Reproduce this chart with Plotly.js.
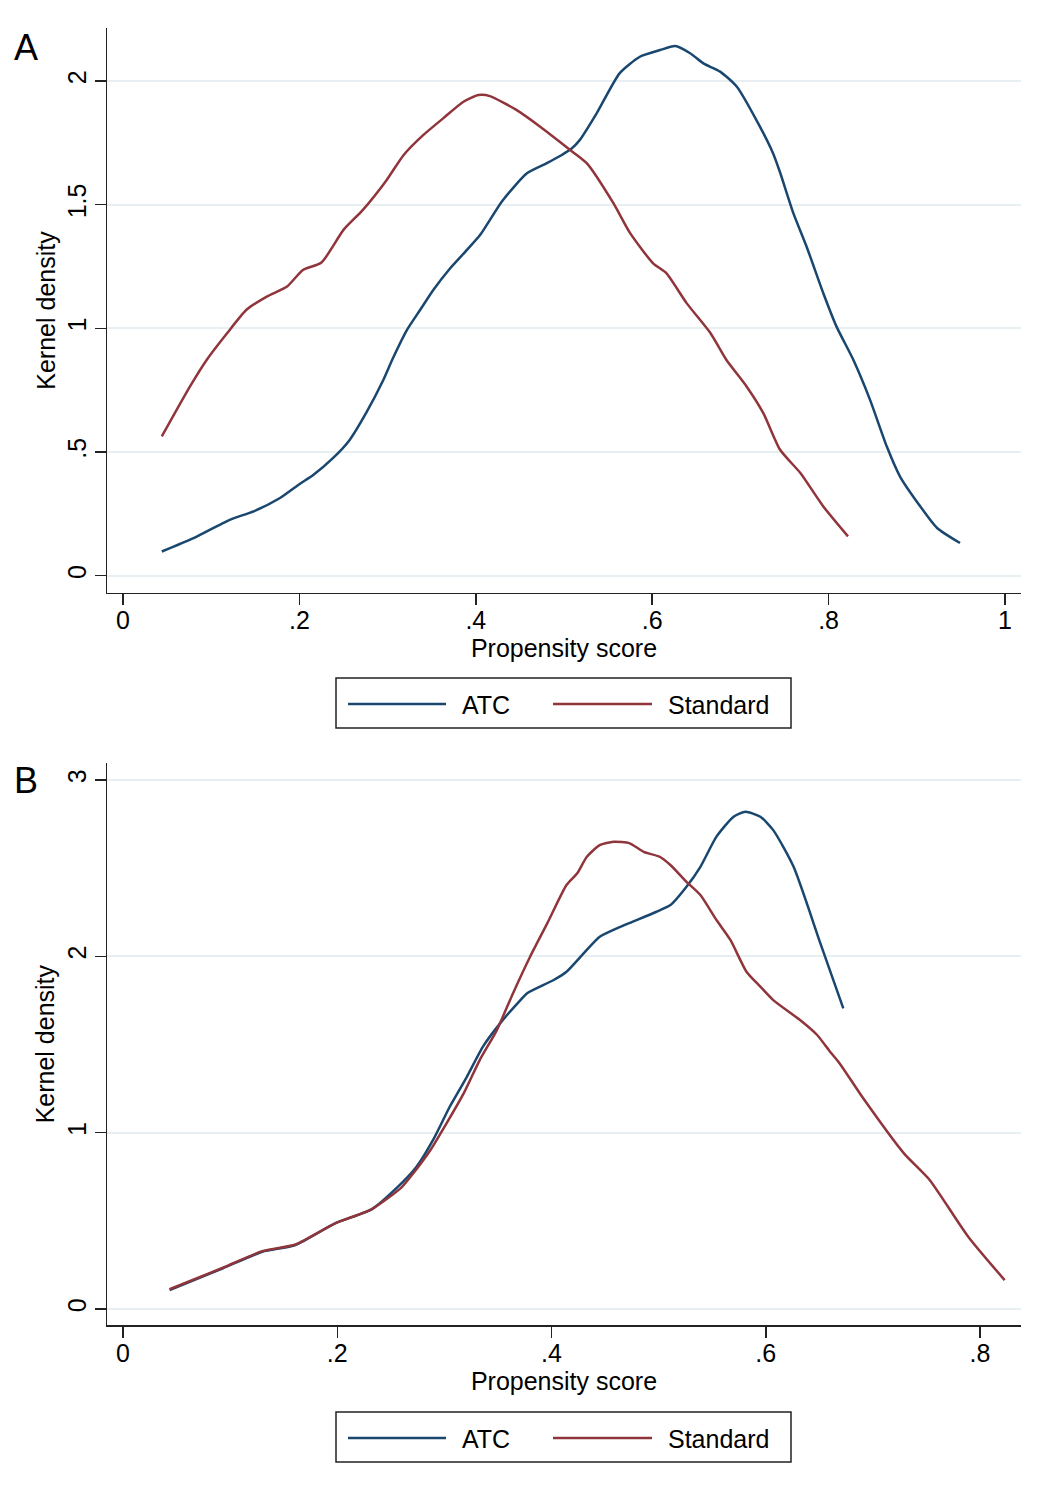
<!DOCTYPE html>
<html>
<head>
<meta charset="utf-8">
<script src="https://cdn.plot.ly/plotly-3.0.1.min.js"></script>
<style>html,body{margin:0;padding:0;background:#fff;}#chart{width:1037px;height:1489px;}</style>
</head>
<body>
<div id="chart"></div>
<script>
// ---------- DATA ----------
const seriesNames = ["ATC", "Standard"];

// Panel A
const A_atc_x = [0.044,0.080,0.121,0.148,0.178,0.200,0.216,0.238,0.257,0.276,0.295,0.306,0.322,0.337,0.352,0.371,0.390,0.405,0.430,0.458,0.480,0.497,0.509,0.518,0.537,0.563,0.586,0.609,0.626,0.643,0.658,0.677,0.696,0.720,0.737,0.745,0.760,0.775,0.794,0.809,0.828,0.847,0.866,0.881,0.904,0.923,0.949];
const A_atc_y = [0.098,0.152,0.226,0.260,0.314,0.370,0.408,0.475,0.549,0.660,0.790,0.879,0.994,1.075,1.156,1.243,1.317,1.378,1.515,1.627,1.667,1.700,1.728,1.762,1.869,2.031,2.098,2.125,2.141,2.112,2.071,2.038,1.977,1.830,1.708,1.630,1.466,1.331,1.142,1.007,0.873,0.711,0.522,0.401,0.280,0.193,0.132];

const A_std_x = [0.044,0.076,0.095,0.118,0.140,0.163,0.186,0.204,0.225,0.250,0.272,0.299,0.318,0.340,0.363,0.386,0.403,0.416,0.446,0.473,0.507,0.526,0.556,0.575,0.601,0.616,0.639,0.666,0.684,0.707,0.726,0.745,0.768,0.794,0.822];
const A_std_y = [0.563,0.765,0.873,0.980,1.075,1.128,1.169,1.236,1.266,1.398,1.479,1.600,1.700,1.780,1.849,1.916,1.943,1.939,1.883,1.815,1.721,1.667,1.506,1.385,1.263,1.223,1.102,0.981,0.873,0.765,0.657,0.509,0.415,0.280,0.159];

// Panel B
const B_atc_x = [0.0435,0.0933,0.130,0.161,0.198,0.232,0.255,0.274,0.290,0.305,0.321,0.336,0.352,0.371,0.377,0.402,0.414,0.430,0.445,0.461,0.476,0.498,0.511,0.526,0.539,0.554,0.570,0.581,0.595,0.607,0.626,0.651,0.6724];
const B_atc_y = [0.108,0.231,0.325,0.363,0.486,0.565,0.684,0.807,0.965,1.147,1.317,1.488,1.620,1.752,1.790,1.866,1.913,2.017,2.111,2.159,2.197,2.253,2.291,2.395,2.508,2.679,2.792,2.820,2.792,2.716,2.508,2.074,1.705];

const B_std_x = [0.0435,0.0933,0.130,0.161,0.198,0.232,0.260,0.271,0.287,0.302,0.318,0.333,0.349,0.364,0.380,0.396,0.414,0.424,0.433,0.445,0.458,0.473,0.486,0.501,0.511,0.526,0.539,0.554,0.567,0.582,0.595,0.607,0.632,0.648,0.660,0.669,0.690,0.729,0.753,0.789,0.823];
const B_std_y = [0.112,0.234,0.328,0.366,0.486,0.565,0.690,0.770,0.902,1.053,1.223,1.412,1.582,1.790,1.998,2.187,2.405,2.471,2.565,2.631,2.650,2.641,2.593,2.565,2.518,2.423,2.348,2.206,2.093,1.913,1.828,1.752,1.639,1.554,1.459,1.393,1.204,0.883,0.732,0.410,0.164];

const A_xtickvals = [0,0.2,0.4,0.6,0.8,1];
const A_xticktext = ["0",".2",".4",".6",".8","1"];
const A_ytickvals = [0,0.5,1,1.5,2];
const A_yticktext = ["0",".5","1","1.5","2"];
const B_xtickvals = [0,0.2,0.4,0.6,0.8];
const B_xticktext = ["0",".2",".4",".6",".8"];
const B_ytickvals = [0,1,2,3];
const B_yticktext = ["0","1","2","3"];

// ---------- STYLE ----------
const W = 1037, H = 1489;
const BLUE = "#1a476f", RED = "#90353b";
const FONT = "Liberation Sans, Arial, sans-serif";
const px = v => v / W;
const py = v => 1 - v / H;

function trace(x, y, name, color, xa, ya) {
  return {x: x, y: y, name: name, type: "scatter", mode: "lines",
          line: {color: color, width: 2.5, shape: "spline", smoothing: 0.6},
          xaxis: xa, yaxis: ya, showlegend: false, hoverinfo: "x+y+name"};
}

const data = [
  trace(A_atc_x, A_atc_y, seriesNames[0], BLUE, "x", "y"),
  trace(A_std_x, A_std_y, seriesNames[1], RED, "x", "y"),
  trace(B_atc_x, B_atc_y, seriesNames[0], BLUE, "x2", "y2"),
  trace(B_std_x, B_std_y, seriesNames[1], RED, "x2", "y2")
];

function xaxisDef(range, tv, tt, anchor) {
  return {domain: [px(107), px(1021)], range: range, anchor: anchor,
    showline: true, linecolor: "#222", linewidth: 1.5, mirror: false,
    ticks: "outside", ticklen: 11, tickwidth: 1.5, tickcolor: "#222",
    tickvals: tv, ticktext: tt, showgrid: false, zeroline: false,
    tickfont: {family: FONT, size: 25, color: "#000"}, ticklabelstandoff: -6,
    title: {text: "Propensity score", font: {family: FONT, size: 25, color: "#000"}, standoff: 6},
    automargin: false, fixedrange: true};
}
function yaxisDef(domain, range, tv, tt, anchor) {
  return {domain: domain, range: range, anchor: anchor,
    showline: true, linecolor: "#222", linewidth: 1.5,
    ticks: "outside", ticklen: 11, tickwidth: 1.5, tickcolor: "#222",
    tickvals: tv, ticktext: tt, tickangle: -90,
    showgrid: true, gridcolor: "#e8eff2", gridwidth: 2, zeroline: false,
    tickfont: {family: FONT, size: 25, color: "#000"}, ticklabelstandoff: -1,
    title: {text: "Kernel density", font: {family: FONT, size: 25, color: "#000"}, standoff: 0},
    automargin: false, fixedrange: true};
}

function legendShapes(top) {
  const mid = top + 26;
  return [
    {type: "rect", xref: "paper", yref: "paper", x0: px(336), x1: px(791), y0: py(top), y1: py(top + 50),
     line: {color: "#222", width: 1.5}, fillcolor: "rgba(0,0,0,0)"},
    {type: "line", xref: "paper", yref: "paper", x0: px(348), x1: px(446), y0: py(mid), y1: py(mid),
     line: {color: BLUE, width: 2.5}},
    {type: "line", xref: "paper", yref: "paper", x0: px(553), x1: px(652), y0: py(mid), y1: py(mid),
     line: {color: RED, width: 2.5}}
  ];
}
function legendAnn(top) {
  const mid = top + 27;
  return [
    {xref: "paper", yref: "paper", x: px(460), y: py(mid), xanchor: "left", yanchor: "middle",
     text: seriesNames[0], showarrow: false, font: {family: FONT, size: 25, color: "#000"}},
    {xref: "paper", yref: "paper", x: px(666), y: py(mid), xanchor: "left", yanchor: "middle",
     text: seriesNames[1], showarrow: false, font: {family: FONT, size: 25, color: "#000"}}
  ];
}

const layout = {
  width: W, height: H,
  margin: {l: 0, r: 0, t: 0, b: 0},
  paper_bgcolor: "#fff", plot_bgcolor: "#fff",
  showlegend: false,
  font: {family: FONT, color: "#000"},
  xaxis: xaxisDef([-16/882, 898/882], A_xtickvals, A_xticktext, "y"),
  yaxis: yaxisDef([py(592.7), py(28.3)], [-0.0687, 2.213], A_ytickvals, A_yticktext, "x"),
  xaxis2: xaxisDef([-16/1071.25, 898/1071.25], B_xtickvals, B_xticktext, "y2"),
  yaxis2: yaxisDef([py(1325), py(763.3)], [-0.0907, 3.095], B_ytickvals, B_yticktext, "x2"),
  shapes: legendShapes(678).concat(legendShapes(1412)),
  annotations: [
    {xref: "paper", yref: "paper", x: px(12), y: py(47), xanchor: "left", yanchor: "middle",
     text: "A", showarrow: false, font: {family: FONT, size: 36, color: "#000"}},
    {xref: "paper", yref: "paper", x: px(12), y: py(781), xanchor: "left", yanchor: "middle",
     text: "B", showarrow: false, font: {family: FONT, size: 36, color: "#000"}}
  ].concat(legendAnn(678)).concat(legendAnn(1412))
};

Plotly.newPlot("chart", data, layout, {displayModeBar: false, staticPlot: true});
</script>
</body>
</html>
